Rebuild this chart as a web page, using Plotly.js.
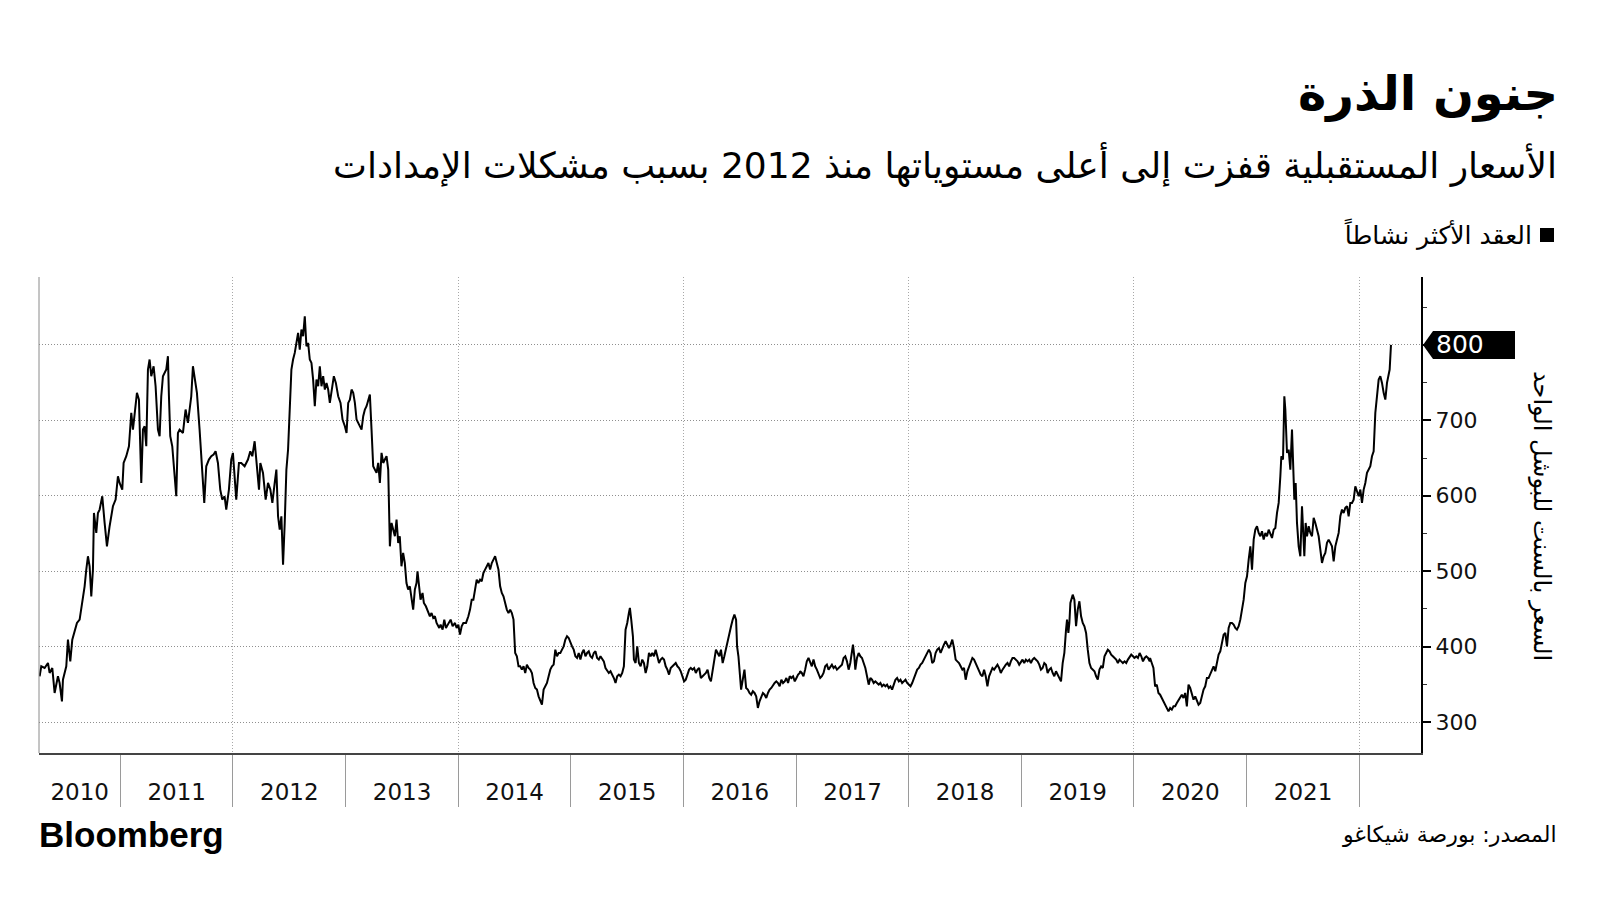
<!DOCTYPE html>
<html>
<head>
<meta charset="utf-8">
<script src="https://cdn.plot.ly/plotly-3.0.1.min.js"></script>
<style>
  html, body { margin: 0; padding: 0; background: #ffffff; }
  #chart { width: 1600px; height: 900px; }
</style>
</head>
<body>
<div id="chart"></div>
<script>
// ---------------- DATA ----------------
// Corn futures, most active contract, US cents per bushel. Dates as decimal years.
const yearsA = [2010.2825,2010.2973,2010.3270,2010.3566,2010.3714,2010.3951,2010.4158,2010.4454,2010.4602,2010.4809,
2010.4898,2010.5194,2010.5342,2010.5550,2010.5727,2010.5935,2010.6142,2010.6379,2010.6527,2010.6675,
2010.6823,2010.6971,2010.7119,2010.7267,2010.7415,2010.7563,2010.7652,2010.7859,2010.8007,2010.8156,
2010.8392,2010.8600,2010.8807,2010.9044,2010.9340,2010.9577,2010.9784,2010.9932,2011.0169,2011.0288,
2011.0524,2011.0761,2011.0969,2011.1117,2011.1354,2011.1472,2011.1650,2011.1857,2011.2005,2011.2153,
2011.2301,2011.2449,2011.2597,2011.2745,2011.2953,2011.3130,2011.3338,2011.3486,2011.3634,2011.3782,
2011.4078,2011.4226,2011.4315,2011.4433,2011.4611,2011.4818,2011.4966,2011.5114,2011.5262,2011.5559,
2011.5795,2011.6003,2011.6299,2011.6447,2011.6595,2011.6802,2011.7039,2011.7187,2011.7335,2011.7454,
2011.7631,2011.7868,2011.8076,2011.8283,2011.8460,2011.8668,2011.8875,2011.9053,2011.9260,2011.9408,
2011.9645,2011.9852,2012.0000,2012.0148,2012.0296,2012.0533,2012.0741,2012.1037,2012.1333,2012.1540,
2012.1718,2012.1925,2012.2073,2012.2310,2012.2429,2012.2665,2012.2902,2012.3110,2012.3317,2012.3495,
2012.3702,2012.3850,2012.3998,2012.4146,2012.4294,2012.4442,2012.4590,2012.4738,2012.4886,2012.5034,
2012.5182,2012.5330,2012.5479,2012.5627,2012.5775,2012.5923,2012.6071,2012.6219,2012.6367,2012.6515,
2012.6663,2012.6811,2012.6959,2012.7107,2012.7255,2012.7403,2012.7551,2012.7699,2012.7848,2012.7996,
2012.8144,2012.8292,2012.8440,2012.8588,2012.8736,2012.8943,2012.9121,2012.9328,2012.9535,2012.9713,
2012.9920,2013.0068,2013.0216,2013.0365,2013.0513,2013.0661,2013.0809,2013.0957,2013.1105,2013.1253,
2013.1401,2013.1549,2013.1697,2013.1845,2013.1993,2013.2141,2013.2289,2013.2437,2013.2585,2013.2733,
2013.2882,2013.3030,2013.3178,2013.3326,2013.3474,2013.3622,2013.3770,2013.3918,2013.4066,2013.4214,
2013.4362,2013.4510,2013.4658];
const pricesA = [360.7,373.9,371.7,378.3,365.1,371.7,338.6,360.7,351.8,327.5,
356.2,373.9,409.3,380.5,409.3,420.3,431.4,435.8,449.1,466.7,
480.0,502.1,519.8,506.5,466.7,502.1,577.2,550.7,577.2,581.7,
599.3,564.0,533.0,559.6,586.1,594.9,625.9,617.0,608.2,643.5,
652.4,665.6,709.8,687.7,723.1,736.4,727.5,617.0,687.7,692.2,
665.6,767.3,780.6,758.5,771.7,745.2,687.7,678.9,731.9,758.5,
767.3,785.0,731.9,678.9,665.6,630.3,599.3,683.3,687.7,683.3,
714.3,696.6,731.9,771.7,758.5,736.4,687.7,652.4,625.9,590.5,
639.1,648.0,652.4,654.6,659.0,643.5,608.2,594.9,599.3,581.7,
608.2,648.0,656.8,625.9,594.9,643.5,643.5,639.1,648.0,659.0,
652.4,672.3,648.0,608.2,643.5,630.3,594.9,617.0,608.2,590.5,
617.0,634.7,572.8,555.1,572.8,508.7,564.0,634.7,661.2,705.4,
767.3,780.6,789.4,802.7,815.9,793.8,820.3,811.5,838.0,798.2,
802.7,780.6,776.1,754.0,718.7,754.0,745.2,771.7,745.2,758.5,
740.8,749.6,740.8,723.1,736.4,758.5,749.6,731.9,723.1,701.0,
692.2,683.3,723.1,727.5,740.8,736.4,723.1,701.0,696.6,692.2,
687.7,705.4,714.3,718.7,727.5,734.1,687.7,639.1,634.7,630.3,
643.5,617.0,656.8,643.5,648.0,652.4,634.7,533.0,564.0,555.1,
546.3,568.4,537.5];

const yearsB = [2013.4799,2013.4948,2013.5096,2013.5245,2013.5393,2013.5542,2013.5691,2013.5839,2013.5988,2013.6136,
2013.6285,2013.6374,2013.6523,2013.6642,2013.6820,2013.6939,2013.7117,2013.7325,2013.7474,2013.7622,
2013.7771,2013.7919,2013.8068,2013.8306,2013.8425,2013.8603,2013.8752,2013.8900,2013.9108,2013.9316,
2013.9494,2013.9702,2013.9851,2014.0000,2014.0149,2014.0297,2014.0446,2014.0684,2014.0892,2014.1040,
2014.1189,2014.1337,2014.1486,2014.1634,2014.1783,2014.1932,2014.2080,2014.2229,2014.2377,2014.2526,
2014.2675,2014.2823,2014.2972,2014.3120,2014.3269,2014.3418,2014.3566,2014.3715,2014.3863,2014.4012,
2014.4161,2014.4309,2014.4458,2014.4606,2014.4755,2014.4903,2014.5052,2014.5201,2014.5349,2014.5498,
2014.5646,2014.5795,2014.5944,2014.6092,2014.6241,2014.6389,2014.6538,2014.6687,2014.6835,2014.6984,
2014.7132,2014.7281,2014.7430,2014.7578,2014.7727,2014.7875,2014.8024,2014.8172,2014.8321,2014.8470,
2014.8618,2014.8767,2014.8915,2014.9064,2014.9213,2014.9361,2014.9510,2014.9658,2014.9807,2014.9956,
2015.0104,2015.0253,2015.0401,2015.0550,2015.0699,2015.0847,2015.0996,2015.1144,2015.1293,2015.1441,
2015.1590,2015.1739,2015.1887,2015.2036,2015.2184,2015.2333,2015.2482,2015.2630,2015.2779,2015.2927,
2015.3076,2015.3225,2015.3373,2015.3522,2015.3670,2015.3819,2015.3968,2015.4116,2015.4265,2015.4413,
2015.4562,2015.4710,2015.4859,2015.5008,2015.5156,2015.5245,2015.5364,2015.5513,2015.5602,2015.5750,
2015.5899,2015.6048,2015.6196,2015.6345,2015.6493,2015.6642,2015.6790,2015.6939,2015.7088,2015.7236,
2015.7385,2015.7533,2015.7682,2015.7831,2015.7979,2015.8128,2015.8276,2015.8425,2015.8574,2015.8722,
2015.8871,2015.9019,2015.9168,2015.9316,2015.9465,2015.9614,2015.9762,2015.9911,2016.0059,2016.0208,
2016.0356,2016.0505,2016.0654,2016.0802,2016.0951,2016.1099,2016.1248,2016.1397,2016.1545,2016.1694,
2016.1842,2016.1991,2016.2140,2016.2288,2016.2437,2016.2585,2016.2734,2016.2883,2016.3031,2016.3180,
2016.3328,2016.3477,2016.3625,2016.3774,2016.3923,2016.4071,2016.4220,2016.4368,2016.4517,2016.4666,
2016.4755,2016.4874,2016.4963,2016.5111,2016.5260,2016.5409,2016.5557,2016.5706,2016.5854,2016.6003,
2016.6151,2016.6300,2016.6449,2016.6597,2016.6746,2016.6894,2016.7043,2016.7192,2016.7340,2016.7489,
2016.7637,2016.7786,2016.7935,2016.8083,2016.8232,2016.8380,2016.8529,2016.8678,2016.8826,2016.8975,
2016.9123,2016.9272,2016.9420,2016.9569,2016.9718,2016.9866,2017.0015,2017.0163,2017.0312];
const pricesB = [546.3,506.5,524.2,510.9,484.4,475.6,480.0,462.3,449.1,475.6,
484.4,499.9,475.6,462.3,471.2,457.9,453.5,444.6,440.2,444.6,
438.0,440.2,431.4,424.7,429.2,422.5,435.8,424.7,431.4,435.8,
427.0,431.4,424.7,429.2,415.9,427.0,431.4,431.4,440.2,449.1,
462.3,462.3,475.6,488.8,484.4,488.8,486.6,497.7,502.1,506.5,
510.9,502.1,510.9,515.4,519.8,510.9,502.1,480.0,471.2,466.7,
457.9,449.1,444.6,449.1,444.6,435.8,391.6,387.2,373.9,373.9,
369.5,373.9,365.1,376.1,371.7,369.5,365.1,351.8,345.2,343.0,
334.1,329.7,323.1,343.0,347.4,351.8,360.7,369.5,373.9,376.1,
396.0,387.2,391.6,391.6,396.0,400.4,409.3,413.7,411.5,404.9,
400.4,396.0,387.2,385.0,391.6,382.8,391.6,396.0,387.2,391.6,
393.8,387.2,385.0,391.6,393.8,385.0,382.8,387.2,382.8,380.5,
371.7,367.3,365.1,367.3,362.9,358.4,351.8,360.7,362.9,360.7,
365.1,373.9,422.5,431.4,444.6,451.3,435.8,413.7,382.8,378.3,
400.4,378.3,373.9,382.8,378.3,365.1,373.9,391.6,387.2,391.6,
387.2,396.0,387.2,378.3,382.8,385.0,382.8,373.9,369.5,362.9,
371.7,373.9,376.1,378.3,373.9,371.7,367.3,360.7,354.0,356.2,
362.9,369.5,371.7,369.5,371.7,365.1,369.5,371.7,358.4,360.7,
362.9,365.1,369.5,358.4,354.0,369.5,382.8,396.0,391.6,387.2,
396.0,378.3,387.2,398.2,404.9,418.1,427.0,435.8,442.4,435.8,
400.4,387.2,369.5,343.0,356.2,369.5,345.2,343.0,338.6,336.3,
340.8,338.6,334.1,318.7,327.5,334.1,338.6,336.3,331.9,338.6,
343.0,345.2,349.6,351.8,354.0,351.8,347.4,356.2,351.8,354.0,
358.4,351.8,360.7,358.4,360.7,354.0,358.4,362.9,365.1];

const yearsC = [2017.0342,2017.0491,2017.0639,2017.0788,2017.0936,2017.1085,2017.1234,2017.1382,2017.1531,2017.1679,
2017.1828,2017.1976,2017.2125,2017.2274,2017.2422,2017.2571,2017.2719,2017.2868,2017.3017,2017.3165,
2017.3314,2017.3462,2017.3611,2017.3760,2017.3908,2017.4057,2017.4205,2017.4354,2017.4503,2017.4651,
2017.4800,2017.4948,2017.5037,2017.5156,2017.5246,2017.5394,2017.5543,2017.5691,2017.5840,2017.5988,
2017.6137,2017.6286,2017.6434,2017.6583,2017.6731,2017.6880,2017.7028,2017.7177,2017.7326,2017.7474,
2017.7623,2017.7771,2017.7920,2017.8069,2017.8217,2017.8366,2017.8514,2017.8663,2017.8811,2017.8960,
2017.9109,2017.9257,2017.9406,2017.9554,2017.9703,2017.9851,2018.0000,2018.0149,2018.0297,2018.0446,
2018.0594,2018.0743,2018.0892,2018.1040,2018.1189,2018.1337,2018.1486,2018.1634,2018.1783,2018.1932,
2018.2080,2018.2229,2018.2377,2018.2526,2018.2675,2018.2823,2018.2972,2018.3120,2018.3269,2018.3418,
2018.3566,2018.3715,2018.3863,2018.4012,2018.4161,2018.4309,2018.4458,2018.4606,2018.4755,2018.4903,
2018.5052,2018.5201,2018.5349,2018.5498,2018.5646,2018.5795,2018.5944,2018.6092,2018.6241,2018.6389,
2018.6538,2018.6687,2018.6835,2018.6984,2018.7132,2018.7281,2018.7430,2018.7578,2018.7727,2018.7875,
2018.8024,2018.8172,2018.8321,2018.8470,2018.8618,2018.8767,2018.8915,2018.9064,2018.9213,2018.9361,
2018.9510,2018.9658,2018.9807,2018.9956,2019.0104,2019.0253,2019.0401,2019.0550,2019.0699,2019.0847,
2019.0996,2019.1144,2019.1293,2019.1441,2019.1590,2019.1739,2019.1887,2019.2036,2019.2184,2019.2333,
2019.2482,2019.2630,2019.2779,2019.2927,2019.3076,2019.3225,2019.3373,2019.3522,2019.3670,2019.3819,
2019.3968,2019.4057,2019.4176,2019.4265,2019.4354,2019.4473,2019.4562,2019.4710,2019.4859,2019.5008,
2019.5156,2019.5305,2019.5453,2019.5602,2019.5750,2019.5899,2019.6048,2019.6196,2019.6345,2019.6493,
2019.6642,2019.6790,2019.6939,2019.7088,2019.7236,2019.7385,2019.7533,2019.7682,2019.7831,2019.7979,
2019.8128,2019.8276,2019.8425,2019.8574,2019.8722,2019.8871,2019.9019,2019.9168,2019.9316,2019.9465,
2019.9614,2019.9762,2019.9911,2020.0059,2020.0208,2020.0356,2020.0505,2020.0654,2020.0802,2020.0951,
2020.1099,2020.1248,2020.1397];
const pricesC = [367.3,365.1,360.7,369.5,380.5,385.0,380.5,373.9,382.8,373.9,
369.5,362.9,358.4,360.7,365.1,373.9,376.1,369.5,373.9,376.1,
371.7,373.9,369.5,371.7,373.9,376.1,385.0,387.2,380.5,369.5,
378.3,391.6,402.6,387.2,369.5,385.0,391.6,387.2,385.0,378.3,
371.7,360.7,349.6,358.4,356.2,351.8,354.0,351.8,349.6,351.8,
347.4,349.6,347.4,349.6,345.2,347.4,343.0,349.6,356.2,358.4,
354.0,356.2,351.8,354.0,356.2,351.8,349.6,347.4,351.8,358.4,
362.9,369.5,371.7,376.1,378.3,382.8,387.2,391.6,396.0,391.6,
378.3,380.5,391.6,396.0,398.2,391.6,396.0,402.6,407.1,402.6,
398.2,402.6,409.3,398.2,382.8,380.5,378.3,373.9,369.5,371.7,
356.2,367.3,373.9,380.5,385.0,382.8,378.3,373.9,369.5,362.9,
360.7,369.5,360.7,347.4,360.7,367.3,371.7,369.5,373.9,376.1,
371.7,365.1,369.5,373.9,376.1,378.3,373.9,380.5,385.0,385.0,
382.8,380.5,376.1,380.5,382.8,378.3,382.8,380.5,382.8,378.3,
382.8,385.0,382.8,380.5,376.1,369.5,371.7,378.3,376.1,365.1,
369.5,371.7,365.1,360.7,367.3,362.9,358.4,354.0,378.3,391.6,
422.5,435.8,418.1,431.4,457.9,464.5,468.9,462.3,427.0,449.1,
460.1,440.2,431.4,427.0,418.1,396.0,378.3,371.7,369.5,367.3,
360.7,356.2,369.5,373.9,371.7,387.2,391.6,396.0,393.8,389.4,
387.2,385.0,382.8,378.3,382.8,380.5,378.3,380.5,378.3,382.8,
387.2,389.4,387.2,385.0,387.2,385.0,391.6,387.2,380.5,385.0,
387.2,385.0,380.5];

const yearsD = [2020.1433,2020.1581,2020.1729,2020.1877,2020.2025,2020.2173,2020.2321,2020.2469,2020.2617,2020.2766,
2020.2914,2020.3062,2020.3210,2020.3358,2020.3506,2020.3654,2020.3802,2020.3950,2020.4098,2020.4246,
2020.4394,2020.4542,2020.4690,2020.4838,2020.4986,2020.5135,2020.5283,2020.5431,2020.5579,2020.5727,
2020.5875,2020.6023,2020.6171,2020.6319,2020.6467,2020.6615,2020.6763,2020.6911,2020.7059,2020.7207,
2020.7355,2020.7503,2020.7652,2020.7800,2020.7948,2020.8096,2020.8244,2020.8392,2020.8540,2020.8688,
2020.8836,2020.8984,2020.9132,2020.9280,2020.9428,2020.9576,2020.9724,2020.9872,2021.0021,2021.0169,
2021.0317,2021.0465,2021.0613,2021.0761,2021.0909,2021.1057,2021.1205,2021.1353,2021.1501,2021.1649,
2021.1797,2021.1945,2021.2093,2021.2241,2021.2390,2021.2538,2021.2686,2021.2834,2021.2982,
2021.3071,2021.3219,2021.3337,2021.3426,2021.3574,2021.3722,2021.3870,2021.4018,2021.4107,2021.4225,
2021.4344,2021.4462,2021.4610,2021.4758,2021.4907,2021.4995,2021.5114,2021.5232,2021.5351,2021.5499,
2021.5647,2021.5795,2021.5943,2021.6091,2021.6239,2021.6387,2021.6535,2021.6683,2021.6831,2021.6979,
2021.7127,2021.7275,2021.7423,2021.7572,2021.7720,2021.7868,2021.8016,2021.8164,2021.8312,2021.8460,
2021.8608,2021.8756,2021.8904,2021.9052,2021.9200,2021.9348,2021.9496,2021.9645,2021.9793,2021.9941,
2022.0089,2022.0237,2022.0385,2022.0533,2022.0681,2022.0829,2022.0977,2022.1125,2022.1273,2022.1421,
2022.1569,2022.1718,2022.1866,2022.2014,2022.2162,2022.2310,2022.2458,2022.2606,2022.2695,2022.2813];
const pricesD = [385.0,378.3,371.7,347.4,349.6,338.6,336.3,331.9,327.5,323.1,
316.5,314.2,318.7,316.5,320.9,320.9,325.3,329.7,331.9,336.3,
331.9,338.6,320.9,349.6,345.2,338.6,329.7,334.1,327.5,323.1,
325.3,336.3,343.0,347.4,358.4,358.4,362.9,369.5,373.9,367.3,
380.5,389.4,393.8,404.9,415.9,418.1,400.4,424.7,431.4,431.4,
429.2,424.7,422.5,427.0,435.8,449.1,462.3,484.4,493.3,515.4,
533.0,502.1,541.9,555.1,559.6,550.7,546.3,552.9,541.9,550.7,
546.3,555.1,548.5,544.1,555.1,557.3,577.2,590.5,625.9,
652.4,648.0,731.9,714.3,656.8,661.2,634.7,687.7,652.4,594.9,
617.0,564.0,533.0,519.8,586.1,555.1,519.8,564.0,546.3,559.6,
550.7,546.3,570.6,564.0,555.1,546.3,528.6,510.9,519.8,524.2,
537.5,541.9,537.5,533.0,513.1,533.0,541.9,550.7,572.8,581.7,
577.2,583.9,586.1,572.8,590.5,590.5,594.9,612.6,606.0,599.3,
608.2,590.5,608.2,617.0,630.3,634.7,639.1,652.4,659.0,709.8,
731.9,754.0,758.5,749.6,736.4,727.5,749.6,758.5,767.3,800.0];

const yearLabels = ['2010','2011','2012','2013','2014','2015','2016','2017','2018','2019','2020','2021'];
const yTickValues = [300, 400, 500, 600, 700, 800];
const yMinorTickValues = [350, 450, 550, 650, 750, 850];

// ---------------- TEXTS ----------------
const titleText = 'جنون الذرة';
const subtitleText = 'الأسعار المستقبلية قفزت إلى أعلى مستوياتها منذ 2012 بسبب مشكلات الإمدادات';
const legendText = 'العقد الأكثر نشاطاً';
const yTitleText = 'السعر بالسنت للبوشل الواحد';
const sourceText = 'المصدر: بورصة شيكاغو';

// ---------------- helpers ----------------
function yearToDate(yf) {
  const y = Math.floor(yf);
  const s = Date.UTC(y, 0, 1), e = Date.UTC(y + 1, 0, 1);
  return new Date(s + (yf - y) * (e - s)).toISOString().slice(0, 19).replace('T', ' ');
}
const allYears = yearsA.concat(yearsB, yearsC, yearsD);
const allPrices = pricesA.concat(pricesB, pricesC, pricesD);
const xDates = allYears.map(yearToDate);
const lastPrice = allPrices[allPrices.length - 1];

// layout geometry (pixels)
const W = 1600, H = 900;
const M = { l: 39, r: 179, t: 277, b: 147 };
const PW = W - M.l - M.r, PH = H - M.t - M.b;
const px = x => (x - M.l) / PW;
const py = y => (H - M.b - y) / PH;

const xRangeYears = [2010.277, 2022.548];
const xRange = xRangeYears.map(yearToDate);
const labelPos = yearLabels.map(s => {
  const y = +s;
  const a = Math.max(y, xRangeYears[0]), b = Math.min(y + 1, xRangeYears[1]);
  return yearToDate((a + b) / 2);
});

const AR = 'DejaVu Sans';

const traces = [
  {
    type: 'scatter', mode: 'lines', x: xDates, y: allPrices,
    line: { color: '#000000', width: 2 }, hoverinfo: 'skip', showlegend: false
  },
  {
    type: 'scatter', mode: 'lines', x: [xRange[0]], y: [null], xaxis: 'x2',
    hoverinfo: 'skip', showlegend: false
  }
];

const gridDash = '1px,2px';
const layout = {
  width: W, height: H, autosize: false,
  margin: M,
  paper_bgcolor: '#ffffff', plot_bgcolor: '#ffffff',
  font: { family: AR, color: '#111111' },
  hovermode: false, showlegend: false,
  xaxis: {
    type: 'date', range: xRange, fixedrange: true,
    tickmode: 'linear', tick0: '2012-01-01', dtick: 'M24',
    ticks: 'outside', ticklen: 52, tickwidth: 1, tickcolor: '#9a9a9a',
    showticklabels: false,
    showgrid: true, gridcolor: '#a8a8a8', griddash: gridDash, gridwidth: 1,
    showline: true, linecolor: '#444444', linewidth: 1.5, zeroline: false,
    minor: { tick0: '2011-01-01', dtick: 'M12', ticks: 'outside', ticklen: 52, tickwidth: 1, tickcolor: '#9a9a9a', showgrid: false }
  },
  xaxis2: {
    type: 'date', range: xRange, overlaying: 'x', anchor: 'y', side: 'bottom', fixedrange: true,
    tickmode: 'array', tickvals: labelPos, ticktext: yearLabels,
    ticks: '', showgrid: false, showline: false, zeroline: false,
    tickfont: { family: 'DejaVu Sans', size: 23, color: '#111111' },
    ticklabelstandoff: 23
  },
  yaxis: {
    side: 'right', range: [259, 890], fixedrange: true,
    tickmode: 'array', tickvals: yTickValues,
    ticktext: yTickValues.map(v => v === 800 ? '' : String(v)),
    ticks: 'outside', ticklen: 8, tickwidth: 2, tickcolor: '#000000',
    showline: true, linecolor: '#000000', linewidth: 2,
    showgrid: true, gridcolor: '#8f8f8f', griddash: gridDash, gridwidth: 1,
    zeroline: false,
    tickfont: { family: 'DejaVu Sans', size: 22, color: '#111111' },
    minor: { tickmode: 'array', tickvals: yMinorTickValues, ticks: 'outside', ticklen: 4, tickwidth: 1, tickcolor: '#333333', showgrid: false }
  },
  shapes: [
    { type: 'line', xref: 'paper', yref: 'paper', x0: 0, x1: 0, y0: 0, y1: 1, line: { color: '#8a8a8a', width: 1 } },
    { type: 'path', xref: 'paper', yref: 'y', xsizemode: 'pixel', ysizemode: 'pixel', xanchor: 1, yanchor: lastPrice,
      path: 'M 2 0 L 12 14 L 94 14 L 94 -14 L 12 -14 Z', fillcolor: '#000000', line: { width: 0 } },
    { type: 'rect', xref: 'paper', yref: 'paper', x0: px(1540), x1: px(1554), y0: py(242), y1: py(228), fillcolor: '#000000', line: { width: 0 } }
  ],
  annotations: [
    { xref: 'paper', yref: 'paper', x: px(1560), y: py(93), xanchor: 'right', yanchor: 'middle', showarrow: false,
      text: '<b>' + titleText + '</b>', font: { family: AR, size: 48, color: '#000000' } },
    { xref: 'paper', yref: 'paper', x: px(1559), y: py(165), xanchor: 'right', yanchor: 'middle', showarrow: false,
      text: subtitleText, font: { family: AR, size: 36, color: '#000000' } },
    { xref: 'paper', yref: 'paper', x: px(1534), y: py(234), xanchor: 'right', yanchor: 'middle', showarrow: false,
      text: legendText, font: { family: AR, size: 25, color: '#000000' } },
    { xref: 'paper', yref: 'paper', x: px(1542), y: py(516), xanchor: 'center', yanchor: 'middle', showarrow: false,
      textangle: 90, text: yTitleText, font: { family: AR, size: 24, color: '#000000' } },
    { xref: 'paper', yref: 'y', x: 1, y: lastPrice, xanchor: 'left', yanchor: 'middle', xshift: 13, showarrow: false,
      text: String(Math.round(lastPrice)), font: { family: 'DejaVu Sans', size: 25, color: '#ffffff' } },
    { xref: 'paper', yref: 'paper', x: px(37), y: py(834), xanchor: 'left', yanchor: 'middle', showarrow: false,
      text: '<b>Bloomberg</b>', font: { family: 'Liberation Sans', size: 35, color: '#000000' } },
    { xref: 'paper', yref: 'paper', x: px(1559), y: py(834), xanchor: 'right', yanchor: 'middle', showarrow: false,
      text: sourceText, font: { family: AR, size: 22, color: '#000000' } }
  ]
};

Plotly.newPlot('chart', traces, layout, { displayModeBar: false, staticPlot: true });
</script>
</body>
</html>
